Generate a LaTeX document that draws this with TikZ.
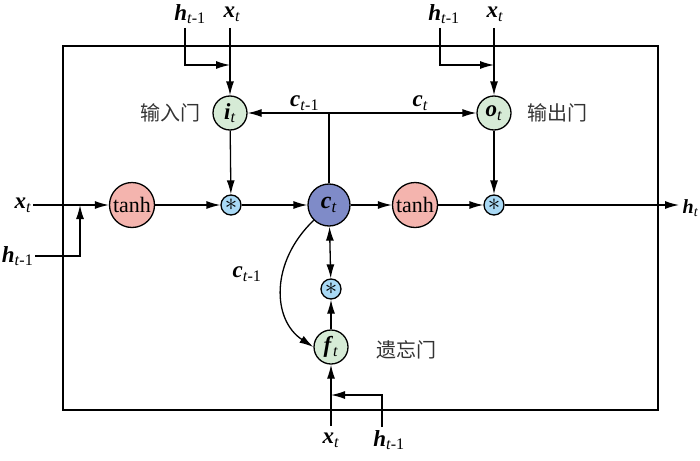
\documentclass[tikz,border=0pt]{standalone}
\usepackage{fontspec}
\setmainfont{Liberation Serif}
\newfontfamily\cjk{Noto Sans CJK SC}
\usetikzlibrary{arrows.meta}
\definecolor{tanhred}{HTML}{F4B4AE}
\definecolor{cellblue}{HTML}{7F8BC8}
\definecolor{gategreen}{HTML}{D6EBD6}
\definecolor{mulblue}{HTML}{A9D9F5}
\newcommand{\vsub}[2]{\textbf{\textit{#1}}\textsubscript{#2}}
\tikzset{
  >={Latex[length=14pt,width=8pt]},
  every path/.style={line width=1.3pt},
  tanhnode/.style={circle,draw,fill=tanhred,minimum size=45pt,inner sep=0pt,font=\fontsize{22}{22}\selectfont},
  cellnode/.style={circle,draw,fill=cellblue,minimum size=42pt,inner sep=0pt,font=\fontsize{24}{24}\selectfont},
  gatenode/.style={circle,draw,fill=gategreen,minimum size=34pt,inner sep=0pt,font=\fontsize{23}{23}\selectfont},
  mulnode/.style={circle,draw,fill=mulblue,minimum size=20pt,inner sep=0pt,font=\fontsize{26}{26}\selectfont},
  varlabel/.style={inner sep=1pt,font=\fontsize{23}{23}\selectfont},
  cnlabel/.style={font=\cjk\fontsize{20}{20}\selectfont,text=black!80}
}
\begin{document}
\begin{tikzpicture}[x=1pt,y=-1pt]
        \useasboundingbox (0,0) rectangle (700,460);
        \draw (63,46) rectangle (658,410);
        % nodes of the cell
        \node[tanhnode] (tanhin) at (132,205) {tanh};
        \node[mulnode] (mulin) at (231,205) {$\ast$};
        \node[cellnode] (cell) at (329,205) {\vsub{c}{\textit{t}}};
        \node[tanhnode] (tanhout) at (415,205) {tanh};
        \node[mulnode] (mulout) at (494,205) {$\ast$};
        \node[gatenode] (gatei) at (230,113) {\vsub{i}{\textit{t}}};
        \node[gatenode] (gateo) at (494,113) {\vsub{o}{\textit{t}}};
        \node[gatenode] (gatef) at (331,347) {\vsub{f}{\textit{t}}};
        \node[mulnode] (mulf) at (331,289) {$\ast$};
        \node[cnlabel] (namei) at (170,113) {输入门};
        \node[cnlabel] (nameo) at (557,113) {输出门};
        \node[cnlabel] (namef) at (406,350) {遗忘门};
        % inputs and outputs
        \node[varlabel] (hi) at (190,14) {\vsub{h}{\textit{t}-1}};
        \node[varlabel] (xi) at (232,14) {\vsub{x}{\textit{t}}};
        \node[varlabel] (ho) at (444,14) {\vsub{h}{\textit{t}-1}};
        \node[varlabel] (xo) at (495,14) {\vsub{x}{\textit{t}}};
        \node[varlabel,anchor=east] (xin) at (33,205) {\vsub{x}{\textit{t}}};
        \node[varlabel,anchor=east] (hin) at (35,256) {\vsub{h}{\textit{t}-1}};
        \node[varlabel,anchor=west,inner sep=0pt,font=\fontsize{20}{20}\selectfont] (hout) at (682,208) {\vsub{h}{\textit{t}}};
        \node[varlabel] (xf) at (331,440) {\vsub{x}{\textit{t}}};
        \node[varlabel] (hf) at (389,440) {\vsub{h}{\textit{t}-1}};
        \coordinate (top) at (329,113);
        % connectors
        \draw[->] (230,28) -- (gatei);
        \draw[->] (185,28) |- (230,65);
        \draw[->] (494,28) -- (gateo);
        \draw[->] (440,28) |- (494,65);
        \draw[->] (xin) -- (tanhin);
        \draw[->] (hin) -| (80,205);
        \draw[->] (tanhin) -- (mulin);
        \draw[->] (gatei) -- (mulin);
        \draw[->] (mulin) -- (cell);
        \draw[->] (cell) -- (tanhout);
        \draw[->] (tanhout) -- (mulout);
        \draw[->] (gateo) -- (mulout);
        \draw[->] (mulout) -- (679,205);
        \draw (cell) -- (top);
        \draw[->] (top) -- (gatei) node[pos=0.3,above=1pt,varlabel] (cprev) {\vsub{c}{\textit{t}-1}};
        \draw[->] (top) -- (gateo) node[pos=0.62,above=1pt,varlabel] (cnow) {\vsub{c}{\textit{t}}};
        \draw[<->] (cell) -- (mulf);
        \draw[->] (gatef) -- (mulf);
        \draw[->] (cell.225) .. controls (270,262) and (272,320) .. (gatef.west);
        \node[varlabel] (cback) at (247,274) {\vsub{c}{\textit{t}-1}};
        \draw[->] (331,426) -- (gatef);
        \draw[->] (382,427) |- (331,395);
        \end{tikzpicture}
\end{document}
